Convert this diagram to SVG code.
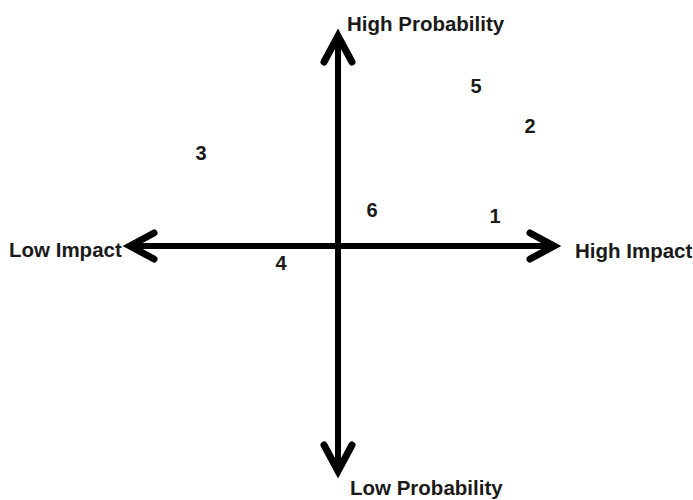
<svg xmlns="http://www.w3.org/2000/svg" width="693" height="500" viewBox="0 0 693 500">
<style>
.ax{stroke:#000;stroke-width:6;fill:none;stroke-linecap:round;stroke-linejoin:round}
.hd{stroke:#000;stroke-width:7;fill:none;stroke-linecap:round;stroke-linejoin:miter}
.lb{font-family:"Liberation Sans",Arial,sans-serif;font-weight:bold;font-size:20.5px;fill:#1a1a1a}
.nm{font-family:"Liberation Sans",Arial,sans-serif;font-weight:bold;font-size:20px;fill:#1a1a1a;text-anchor:middle}
</style>
<rect width="693" height="500" fill="#fff"/>
<g id="connectors">
<line class="ax" x1="338" y1="38" x2="338" y2="469"/>
<line class="ax" x1="133" y1="246" x2="552" y2="246"/>
<polyline class="hd" points="324,62 338,36 352,62"/>
<polyline class="hd" points="324,445 338,471 352,445"/>
<polyline class="hd" points="154,233 130,246 154,259"/>
<polyline class="hd" points="530,233 554,246 530,259"/>
</g>
<g id="high-probability"><text class="lb" x="347" y="31">High Probability</text></g>
<g id="low-probability"><text class="lb" x="350" y="495">Low Probability</text></g>
<g id="low-impact"><text class="lb" x="9" y="257">Low Impact</text></g>
<g id="high-impact"><text class="lb" x="575" y="258">High Impact</text></g>
<g id="n1"><text class="nm" x="495" y="223">1</text></g>
<g id="n2"><text class="nm" x="530" y="133">2</text></g>
<g id="n3"><text class="nm" x="201" y="160">3</text></g>
<g id="n4"><text class="nm" x="281" y="270">4</text></g>
<g id="n5"><text class="nm" x="476" y="93">5</text></g>
<g id="n6"><text class="nm" x="372" y="217">6</text></g>
</svg>
